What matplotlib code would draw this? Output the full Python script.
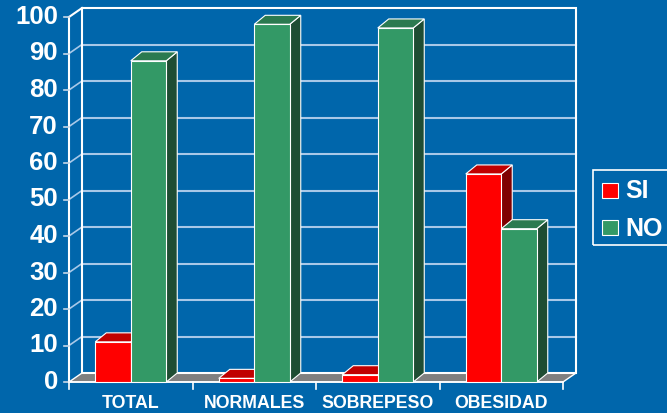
import matplotlib
matplotlib.use('Agg')
import matplotlib.pyplot as plt
from matplotlib.patches import Polygon, Rectangle

# ---- data ----
categories = ['TOTAL', 'NORMALES', 'SOBREPESO', 'OBESIDAD']
series_names = ['SI', 'NO']
si_values = [11, 1, 2, 57]
no_values = [88, 98, 97, 42]
y_ticks = [0, 10, 20, 30, 40, 50, 60, 70, 80, 90, 100]

# ---- style ----
BG = '#0066AB'
GRID = '#A8C8E8'
FLOOR = '#808080'
series_colors = [
    {'front': '#FF0000', 'top': '#C00000', 'side': '#7F0000'},
    {'front': '#339966', 'top': '#2B7A50', 'side': '#1E4D33'},
]
plt.rcParams['font.family'] = ['Liberation Sans', 'DejaVu Sans']

W, H = 667, 413
fig = plt.figure(figsize=(W / 100, H / 100), dpi=100, facecolor=BG)
ax = fig.add_axes([69 / W, (H - 382) / H, 494 / W, 365 / H])
ax.set_xlim(0, len(categories))
ax.set_ylim(0, 100)
ax.axis('off')
ax.set_facecolor(BG)

px_x = 494 / len(categories)   # pixels per x unit
px_y = 365 / 100               # pixels per y unit
wdx, wdy = 13 / px_x, 9 / px_y  # wall depth offset
bdx, bdy = 11 / px_x, 9 / px_y  # bar depth offset
bw = 35.5 / px_x               # bar width
n = len(categories)

# floor
ax.add_patch(Polygon([(0, 0), (n, 0), (n + wdx, wdy), (wdx, wdy)], closed=True,
                     fc=FLOOR, ec='white', lw=1.0, clip_on=False, zorder=1))
# gridlines on back wall and side wall
for v in y_ticks[1:-1]:
    ax.plot([wdx, n + wdx], [v + wdy, v + wdy], color=GRID, lw=1.5, clip_on=False, zorder=1)
    ax.plot([0, wdx], [v, v + wdy], color=GRID, lw=1.2, clip_on=False, zorder=1)
# back wall outline
ax.add_patch(Rectangle((wdx, wdy), n, 100, fill=False, ec='white', lw=1.5,
                       clip_on=False, zorder=1.5))
ax.plot([0, wdx], [100, 100 + wdy], color='white', lw=1.5, clip_on=False, zorder=1.5)
ax.plot([0, 0], [0, 100], color='white', lw=1.5, clip_on=False, zorder=1.5)
ax.plot([0, n], [0, 0], color='white', lw=1.2, clip_on=False, zorder=1.5)

# y ticks and labels
for v in y_ticks:
    ax.plot([-5 / px_x, 0], [v, v], color='#C8D8E8', lw=1.2, clip_on=False)
    ax.text(-11 / px_x, v, str(v), ha='right', va='center', fontsize=18.5,
            fontweight='bold', color='white')

# x ticks and labels
for i in range(n + 1):
    ax.plot([i, i], [0, -7 / px_y], color='white', lw=1.2, clip_on=False)
for i, cat in enumerate(categories):
    ax.text(i + 0.5, -21.5 / px_y, cat, ha='center', va='center', fontsize=12.8,
            fontweight='bold', color='white')

# bars
z = 3
for i in range(n):
    for j, vals in enumerate([si_values, no_values]):
        v = vals[i]
        c = series_colors[j]
        x0 = i + 0.5 - bw + j * bw
        x1 = x0 + bw
        ax.add_patch(Polygon([(x1, 0), (x1 + bdx, bdy), (x1 + bdx, v + bdy), (x1, v)],
                             closed=True, fc=c['side'], ec='white', lw=0.8,
                             clip_on=False, zorder=z))
        ax.add_patch(Polygon([(x0, v), (x1, v), (x1 + bdx, v + bdy), (x0 + bdx, v + bdy)],
                             closed=True, fc=c['top'], ec='white', lw=0.8,
                             clip_on=False, zorder=z))
        ax.add_patch(Rectangle((x0, 0), bw, v, fc=c['front'], ec='white', lw=0.8,
                               clip_on=False, zorder=z))
        z += 1

# legend
fig.add_artist(Rectangle((593 / W, (H - 245) / H), 95 / W, 75 / H, transform=fig.transFigure,
                         fill=False, ec='white', lw=1.2))
leg_y = [190.5, 227.5]
for name, col, yy in zip(series_names, series_colors, leg_y):
    fig.add_artist(Rectangle((602 / W, (H - yy - 7.5) / H), 16 / W, 15 / H,
                             transform=fig.transFigure, fc=col['front'], ec='white', lw=0.8))
    fig.text(625 / W, (H - yy - 1) / H, name, ha='left', va='center', fontsize=18,
             fontweight='bold', color='white')

fig.savefig('out.png', dpi=100, facecolor=BG)
